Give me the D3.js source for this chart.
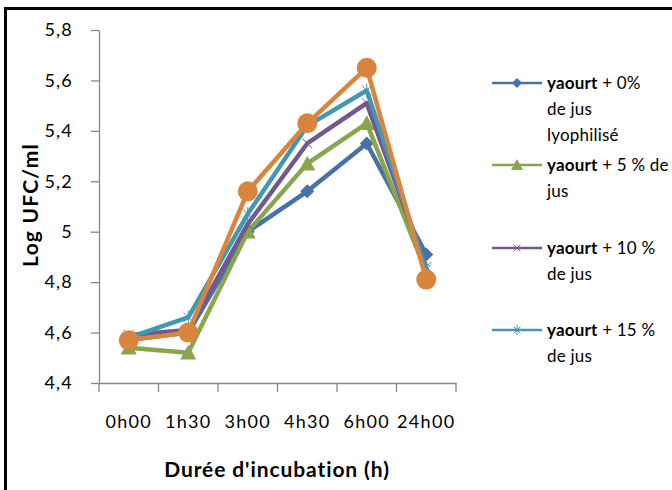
<!DOCTYPE html>
<html>
<head>
<meta charset="utf-8">
<script src="https://cdn.jsdelivr.net/npm/d3@7"></script>
<style>
  body { margin: 0; background: #fff; }
  svg { display: block; font-family: Lato, "Liberation Sans", sans-serif; }
</style>
</head>
<body>
<div id="chart"></div>
<script>
// Data
var CATEGORIES = ['0h00', '1h30', '3h00', '4h30', '6h00', '24h00'];
var Y_TICKS = [4.4, 4.6, 4.8, 5.0, 5.2, 5.4, 5.6, 5.8];
var JUS_0 = [4.57, 4.60, 5.00, 5.16, 5.35, 4.91];
var JUS_5 = [4.54, 4.52, 5.00, 5.27, 5.43, 4.84];
var JUS_10 = [4.59, 4.61, 5.03, 5.35, 5.51, 4.86];
var JUS_15 = [4.58, 4.66, 5.07, 5.42, 5.56, 4.85];
var JUS_X = [4.57, 4.60, 5.16, 5.43, 5.65, 4.81];

var W = 672, H = 490;

var series = [
  {values: JUS_0, color: '#4572a7', marker: 'diamond', legend: ['yaourt +  0%', 'de jus', 'lyophilisé']},
  {values: JUS_5, color: '#89a54e', marker: 'triangle', legend: ['yaourt + 5 % de', 'jus']},
  {values: JUS_10, color: '#71588f', marker: 'x', legend: ['yaourt + 10 %', 'de jus']},
  {values: JUS_15, color: '#4198af', marker: 'star', legend: ['yaourt + 15 %', 'de jus']},
  {values: JUS_X, color: '#db843d', marker: 'circle', legend: null}
];

var svg = d3.select('#chart').append('svg')
    .attr('width', W)
    .attr('height', H);

// outer frame (only top and left visible)
svg.append('rect')
    .attr('x', 5.5).attr('y', 8.5)
    .attr('width', W + 20).attr('height', H + 20)
    .attr('fill', 'none')
    .attr('stroke', '#000')
    .attr('stroke-width', 3);

var xScale = d3.scaleBand()
    .domain(CATEGORIES)
    .range([99, 456]);

var yScale = d3.scaleLinear()
    .domain([4.4, 5.8])
    .range([383, 30]);

function fmt(d) {
  return String(+d.toFixed(1)).replace('.', ',');
}

// Y axis
var yAxis = svg.append('g')
    .attr('transform', 'translate(99,0)')
    .call(d3.axisLeft(yScale).tickValues(Y_TICKS).tickSize(8).tickSizeOuter(0).tickPadding(18).tickFormat(fmt));
yAxis.selectAll('line, path').attr('stroke', '#868686').attr('stroke-width', 1.3);
yAxis.selectAll('text').attr('font-size', 18).attr('letter-spacing', 1.2).attr('fill', '#000').attr('font-family', 'Lato, sans-serif');

// X axis
var xAxis = svg.append('g')
    .attr('transform', 'translate(0,383)')
    .call(d3.axisBottom(xScale).tickSize(0).tickSizeOuter(0).tickPadding(32));
xAxis.selectAll('path').attr('stroke', '#868686').attr('stroke-width', 1.3);
xAxis.selectAll('text').attr('font-size', 18).attr('letter-spacing', 1.3).attr('fill', '#000').attr('font-family', 'Lato, sans-serif');

// tick marks between categories
var bounds = CATEGORIES.map(function(c) { return xScale(c); }).concat([xScale.range()[1]]);
svg.append('g').selectAll('line')
    .data(bounds)
    .enter().append('line')
    .attr('x1', function(d) { return d; })
    .attr('x2', function(d) { return d; })
    .attr('y1', 383)
    .attr('y2', 392)
    .attr('stroke', '#868686')
    .attr('stroke-width', 1.3);

// Axis titles
svg.append('text')
    .attr('x', 277).attr('y', 477)
    .attr('text-anchor', 'middle')
    .attr('font-size', 21)
    .attr('letter-spacing', 0.9)
    .attr('font-weight', 'bold')
    .text("Durée d'incubation (h)");

svg.append('text')
    .attr('transform', 'translate(38,205) rotate(-90)')
    .attr('text-anchor', 'middle')
    .attr('font-size', 21)
    .attr('letter-spacing', 1.2)
    .attr('font-weight', 'bold')
    .text('Log UFC/ml');

function cx(i) { return xScale(CATEGORIES[i]) + xScale.bandwidth() / 2; }

function drawMarker(g, type, color, s) {
  if (type === 'diamond') {
    g.append('path').attr('d', 'M0,' + -s + 'L' + s + ',0L0,' + s + 'L' + -s + ',0Z').attr('fill', color);
  } else if (type === 'triangle') {
    g.append('path').attr('d', 'M0,' + -s + 'L' + s + ',' + s * 0.85 + 'L' + -s + ',' + s * 0.85 + 'Z').attr('fill', color);
  } else if (type === 'circle') {
    g.append('circle').attr('r', s).attr('fill', color);
  } else if (type === 'x') {
    var k = s * 0.7;
    g.append('path').attr('d', 'M' + -k + ',' + -k + 'L' + k + ',' + k + 'M' + k + ',' + -k + 'L' + -k + ',' + k)
      .attr('stroke', color).attr('stroke-width', 1).attr('fill', 'none');
  } else if (type === 'star') {
    var k2 = s * 0.7;
    g.append('path').attr('d', 'M' + -k2 + ',' + -k2 + 'L' + k2 + ',' + k2 + 'M' + k2 + ',' + -k2 + 'L' + -k2 + ',' + k2 + 'M0,' + -s + 'L0,' + s)
      .attr('stroke', color).attr('stroke-width', 1).attr('fill', 'none');
  }
}

var markerSize = {diamond: 7, triangle: 8, circle: 10, x: 7, star: 7};

var line = d3.line()
    .x(function(d, i) { return cx(i); })
    .y(function(d) { return yScale(d); });

series.forEach(function(s) {
  svg.append('path')
      .datum(s.values)
      .attr('fill', 'none')
      .attr('stroke', s.color)
      .attr('stroke-width', 4.5)
      .attr('stroke-linejoin', 'round')
      .attr('d', line);
  s.values.forEach(function(v, i) {
    var g = svg.append('g').attr('transform', 'translate(' + cx(i) + ',' + yScale(v) + ')');
    drawMarker(g, s.marker, s.color, markerSize[s.marker]);
  });
});

// Legend
var legendTop = [83, 165, 248, 330];
series.forEach(function(s, i) {
  if (!s.legend) return;
  var y0 = legendTop[i];
  var g = svg.append('g');
  g.append('line')
      .attr('x1', 492).attr('x2', 542)
      .attr('y1', y0).attr('y2', y0)
      .attr('stroke', s.color)
      .attr('stroke-width', 2.5);
  var mg = g.append('g').attr('transform', 'translate(517,' + y0 + ')');
  drawMarker(mg, s.marker, s.color, s.marker === 'triangle' ? 6 : 5);
  s.legend.forEach(function(t, j) {
    var txt = g.append('text')
        .attr('x', 547)
        .attr('y', y0 + 6 + j * 26)
        .attr('font-size', 17)
        .attr('letter-spacing', 0.2);
    if (j === 0) {
      txt.append('tspan').attr('font-weight', 'bold').text('yaourt');
      txt.append('tspan').text(t.replace('yaourt', ''));
    } else {
      txt.text(t);
    }
  });
});
</script>
</body>
</html>
